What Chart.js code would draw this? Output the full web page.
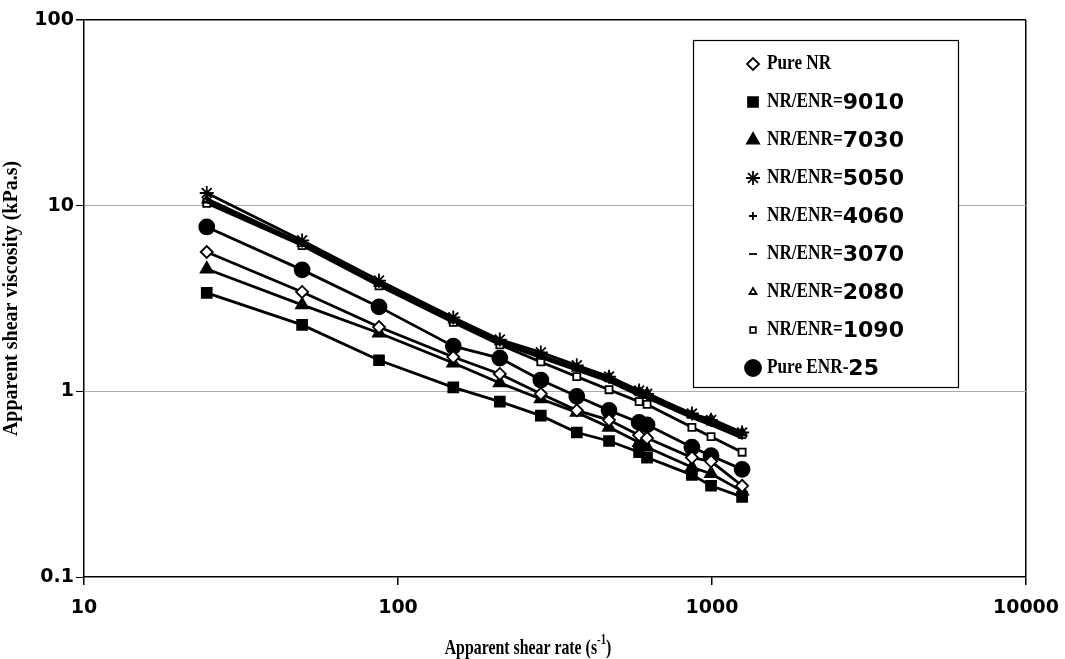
<!DOCTYPE html>
<html>
<head>
<meta charset="utf-8">
<title>Apparent shear viscosity</title>
<script src="https://cdn.jsdelivr.net/npm/chart.js@4.4.1/dist/chart.umd.min.js"></script>
<style>
  html, body { margin: 0; background: #fff; }
</style>
</head>
<body>
<canvas id="viscosityChart" width="1065" height="659"></canvas>
<script>
// Apparent shear rate (1/s), shared by all blends
const shearRate = [24.6, 49.5, 87, 150, 211, 285, 371, 470, 586, 621, 863, 993, 1247];

// Apparent shear viscosity (kPa.s) per blend
const pureNR     = [5.63, 3.43, 2.22, 1.53, 1.24, 0.97, 0.79, 0.70, 0.58, 0.56, 0.44, 0.42, 0.31];
const nrEnr9010  = [3.39, 2.28, 1.47, 1.05, 0.88, 0.74, 0.60, 0.54, 0.47, 0.44, 0.355, 0.31, 0.27];
const nrEnr7030  = [4.56, 2.92, 2.06, 1.42, 1.11, 0.91, 0.77, 0.64, 0.53, 0.50, 0.39, 0.36, 0.29];
const nrEnr5050  = [11.7, 6.5, 3.95, 2.5, 1.9, 1.62, 1.38, 1.2, 1.01, 0.97, 0.76, 0.70, 0.60];
const nrEnr4060  = [10.9, 6.3, 3.8, 2.45, 1.86, 1.56, 1.34, 1.16, 0.98, 0.95, 0.74, 0.68, 0.58];
const nrEnr3070  = [10.5, 6.2, 3.75, 2.4, 1.82, 1.52, 1.30, 1.13, 0.95, 0.92, 0.72, 0.66, 0.56];
const nrEnr2080  = [10.7, 6.25, 3.8, 2.42, 1.85, 1.55, 1.33, 1.2, 1.0, 0.98, 0.75, 0.71, 0.60];
const nrEnr1090  = [10.3, 6.1, 3.7, 2.35, 1.78, 1.44, 1.2, 1.02, 0.88, 0.85, 0.64, 0.57, 0.47];
const pureENR25  = [7.68, 4.51, 2.85, 1.75, 1.51, 1.15, 0.94, 0.79, 0.68, 0.66, 0.50, 0.45, 0.38];

const seriesLabels = ['Pure NR', 'NR/ENR=9010', 'NR/ENR=7030', 'NR/ENR=5050', 'NR/ENR=4060',
                      'NR/ENR=3070', 'NR/ENR=2080', 'NR/ENR=1090', 'Pure ENR-25'];
const seriesValues = [pureNR, nrEnr9010, nrEnr7030, nrEnr5050, nrEnr4060,
                      nrEnr3070, nrEnr2080, nrEnr1090, pureENR25];

// marker look per series: [pointStyle, radius, filled, legendRadius]
const markers = [
  ['rectRot', 6, false, 6],
  ['rect', 7, true, 7],
  ['triangle', 7, true, 7],
  ['star', 7, false, 7],
  ['cross', 4, false, 4],
  ['line', 4, false, 4],
  ['triangle', 5, false, 4],
  ['rect', 5, false, 4],
  ['circle', 7.5, true, 8]
];

const isDecade = v => Math.abs(Math.log10(v) - Math.round(Math.log10(v))) < 1e-9;
const near = (a, b) => Math.abs(Math.log10(a) - Math.log10(b)) < 1e-6;

const datasets = seriesLabels.map((label, i) => ({
  label: label,
  data: shearRate.map((x, j) => ({ x: x, y: seriesValues[i][j] })),
  borderColor: '#000',
  borderWidth: 2.8,
  pointStyle: markers[i][0],
  pointRadius: markers[i][1],
  pointBorderWidth: 1.8,
  pointBorderColor: '#000',
  pointBackgroundColor: markers[i][2] ? '#000' : '#fff',
  tension: 0
}));

// legend box inside the plot (serif words, sans digits) and the narrow x-axis title
const boxLegend = {
  id: 'boxLegend',
  afterDraw(chart) {
    const ctx = chart.ctx;
    ctx.save();
    ctx.fillStyle = '#fff';
    ctx.fillRect(693, 40, 265, 347);
    ctx.strokeStyle = '#000';
    ctx.lineWidth = 1.2;
    ctx.strokeRect(693.5, 40.5, 265, 347);
    ctx.textBaseline = 'middle';
    seriesLabels.forEach((label, i) => {
      const y = 64 + i * 38;
      const m = markers[i];
      ctx.fillStyle = m[2] ? '#000' : '#fff';
      ctx.strokeStyle = '#000';
      ctx.lineWidth = 1.8;
      Chart.helpers.drawPoint(ctx, { pointStyle: m[0], radius: m[3], rotation: 0, borderWidth: 1.8 }, 753, y);
      const parts = label.match(/^(.*?)(\d*)$/);
      ctx.fillStyle = '#000';
      ctx.font = 'bold 20px "Liberation Serif"';
      const w = ctx.measureText(parts[1]).width * 0.86;
      ctx.save();
      ctx.translate(767, y);
      ctx.scale(0.86, 1);
      ctx.fillText(parts[1], 0, 0);
      ctx.restore();
      ctx.font = 'bold 22px "DejaVu Sans"';
      ctx.fillText(parts[2], 767 + w, y + 1);
    });
    ctx.restore();

    // x-axis title, condensed bold serif with superscript
    ctx.save();
    ctx.translate(528, 648);
    ctx.scale(0.72, 1);
    ctx.fillStyle = '#000';
    ctx.textBaseline = 'middle';
    const main = 'Apparent shear rate (s';
    const sup = '-1';
    const close = ')';
    ctx.font = 'bold 22px "Liberation Serif"';
    const w1 = ctx.measureText(main).width;
    const w3 = ctx.measureText(close).width;
    ctx.font = 'bold 15px "Liberation Serif"';
    const w2 = ctx.measureText(sup).width;
    const x0 = -(w1 + w2 + w3) / 2;
    ctx.font = 'bold 22px "Liberation Serif"';
    ctx.fillText(main, x0, 0);
    ctx.font = 'bold 15px "Liberation Serif"';
    ctx.fillText(sup, x0 + w1, -8);
    ctx.font = 'bold 22px "Liberation Serif"';
    ctx.fillText(close, x0 + w1 + w2, 0);
    ctx.restore();
  }
};

new Chart(document.getElementById('viscosityChart'), {
  type: 'line',
  data: { datasets: datasets },
  plugins: [boxLegend],
  options: {
    responsive: false,
    animation: false,
    layout: { padding: { top: 20, right: 39, left: 0, bottom: 0 } },
    plugins: {
      legend: { display: false },
      tooltip: { enabled: false }
    },
    scales: {
      x: {
        type: 'logarithmic',
        min: 10,
        max: 10000,
        afterBuildTicks: s => { s.ticks = s.ticks.filter(t => isDecade(t.value)); },
        afterFit: s => { s.height = 82; s.paddingLeft = 0; s.paddingRight = 0; },
        border: { color: '#000', width: 1.5 },
        grid: {
          color: c => (c.tick && near(c.tick.value, 10000)) ? '#000' : 'rgba(0,0,0,0)',
          lineWidth: 1.5,
          tickColor: '#000',
          tickLength: 8
        },
        ticks: {
          autoSkip: false,
          maxRotation: 0,
          padding: 12,
          color: '#000',
          font: { family: 'DejaVu Sans', weight: 'bold', size: 19 },
          callback: v => String(v)
        }
      },
      y: {
        type: 'logarithmic',
        min: 0.1,
        max: 100,
        afterBuildTicks: s => { s.ticks = s.ticks.filter(t => isDecade(t.value)); },
        afterFit: s => { s.width = 84; s.paddingTop = 0; s.paddingBottom = 0; },
        border: { color: '#000', width: 1.5 },
        grid: {
          color: c => {
            if (!c.tick) return 'rgba(0,0,0,0)';
            if (near(c.tick.value, 100)) return '#000';
            if (near(c.tick.value, 0.1)) return 'rgba(0,0,0,0)';
            return '#aaaaaa';
          },
          lineWidth: c => (c.tick && near(c.tick.value, 100)) ? 1.5 : 1,
          tickColor: '#000',
          tickLength: 8
        },
        ticks: {
          autoSkip: false,
          padding: 2,
          color: '#000',
          font: { family: 'DejaVu Sans', weight: 'bold', size: 19 },
          callback: v => String(v)
        },
        title: {
          display: true,
          text: 'Apparent shear viscosity (kPa.s)',
          color: '#000',
          font: { family: 'Liberation Serif', weight: 'bold', size: 20 },
          padding: { top: 0, bottom: 4 }
        }
      }
    }
  }
});
</script>
</body>
</html>
